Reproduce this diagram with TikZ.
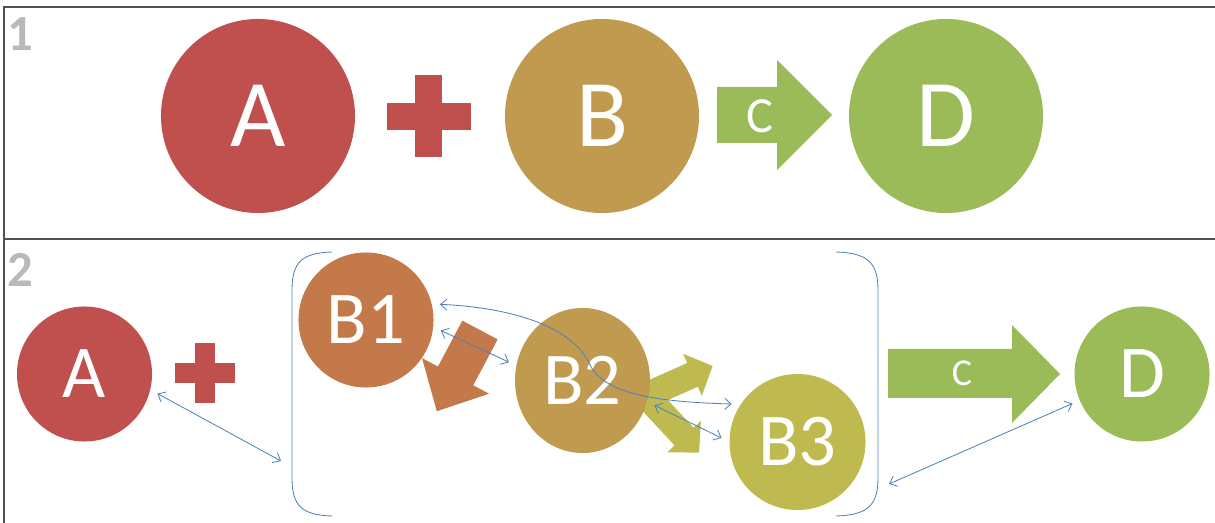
\documentclass[tikz,border=0pt]{standalone}
\usepackage{fontspec}
\setmainfont{Carlito}
\usetikzlibrary{arrows.meta, positioning, shapes.geometric}
\definecolor{OffRed}{HTML}{C0504D}
\definecolor{OffRust}{HTML}{C4794A}
\definecolor{OffTan}{HTML}{C09A4F}
\definecolor{OffOlive}{HTML}{BFBA50}
\definecolor{OffGreen}{HTML}{9BBB59}
\definecolor{OffBlue}{HTML}{4F81BD}
\definecolor{FrameGrey}{HTML}{505050}

\begin{document}
\begin{tikzpicture}[x=0.025cm, y=-0.025cm,
  bigball/.style={circle, inner sep=0pt, minimum size=4.85cm, text=white, font=\fontsize{68}{68}\selectfont},
  ball/.style={circle, inner sep=0pt, outer sep=0.2cm, minimum size=3.375cm, text=white, font=\fontsize{53}{53}\selectfont},
  link/.style={draw=OffBlue, line width=0.6pt, {Straight Barb[length=1.6mm, width=2.8mm]}-{Straight Barb[length=1.6mm, width=2.8mm]}},
  ]
  \useasboundingbox (0,0) rectangle (1215,523);

  % frame of the two panels
  \draw[FrameGrey, line width=1pt] (3,7) -- (1215,7);
  \draw[FrameGrey, line width=1pt] (3,239) -- (1215,239);
  \draw[FrameGrey, line width=1pt] (4,7) -- (4,523);
  \node[text=gray!55, font=\fontsize{36}{36}\selectfont\bfseries] (n1) at (20,34) {1};
  \node[text=gray!55, font=\fontsize{36}{36}\selectfont\bfseries] (n2) at (20,270) {2};

  %% panel 1
  \node[bigball, fill=OffRed] (A) at (258,116) {A};
  \fill[OffRed] (387,103) rectangle (471,130);
  \fill[OffRed] (415,75) rectangle (442,157);
  \node[bigball, fill=OffTan] (B) at (602,116) {B};
  \fill[OffGreen] (717,87) -- (777,87) -- (777,60) -- (832,115) -- (777,170) -- (777,143) -- (717,143) -- cycle;
  \node[text=white, font=\fontsize{36}{36}\selectfont] (C) at (760,116) {C};
  \node[bigball, fill=OffGreen] (D) at (946,116) {D};

  %% panel 2
  \node[ball, fill=OffRed] (A2) at (84.5,374) {A};
  \fill[OffRed] (175,363) rectangle (235,383);
  \fill[OffRed] (195,343) rectangle (215,403);

  % brackets round the B steps
  \draw[OffBlue, line width=0.6pt] (332,252) .. controls (302,253) and (292,262) .. (292,290) -- (292,478) .. controls (292,506) and (302,515) .. (332,516);
  \draw[OffBlue, line width=0.6pt] (836,252) .. controls (867,253) and (878,262) .. (878,290) -- (878,478) .. controls (878,506) and (867,515) .. (836,516);
  \coordinate (brL) at (281,461);
  \coordinate (brR) at (889,484);

  % block arrows between the B steps, drawn first so the balls sit on top
  \fill[OffRust, shift={(480,330)}, rotate=242] (0,-20) -- (52,-20) -- (52,-38) -- (92,0) -- (52,38) -- (52,20) -- (0,20) -- cycle;
  \fill[OffOlive, shift={(645,396)}, rotate=24] (0,-13) -- (52,-13) -- (52,-23) -- (74,0) -- (52,23) -- (52,13) -- (0,13) -- cycle;
  \fill[OffOlive, shift={(650,400)}, rotate=-47] (0,-13) -- (50,-13) -- (50,-23) -- (72,0) -- (50,23) -- (50,13) -- (0,13) -- cycle;

  \node[ball, fill=OffRust] (B1) at (366,320) {B1};
  \node[ball, ellipse, fill=OffTan, minimum width=3.375cm, minimum height=3.625cm] (B2) at (582.5,380.5) {B2};
  \node[ball, fill=OffOlive, minimum size=3.4cm] (B3) at (797.5,442) {B3};

  \fill[OffGreen] (888,349) -- (1012,349) -- (1012,325) -- (1060,374) -- (1012,423) -- (1012,398) -- (888,398) -- cycle;
  \node[text=white, font=\fontsize{27}{27}\selectfont] (C2) at (962,373) {C};
  \node[ball, fill=OffGreen] (D2) at (1142,374) {D};

  % links
  \draw[link] (A2.-15) -- (brL);
  \draw[link] (B1.-8) -- (B2.166);
  \draw[link] (B1.12) .. controls (520,308) and (575,330) .. (590,365) .. controls (605,395) and (660,402) .. (B3.150);
  \draw[link] (B2.-19) -- (B3.177);
  \draw[link] (brR) -- (D2.203);
\end{tikzpicture}
\end{document}
